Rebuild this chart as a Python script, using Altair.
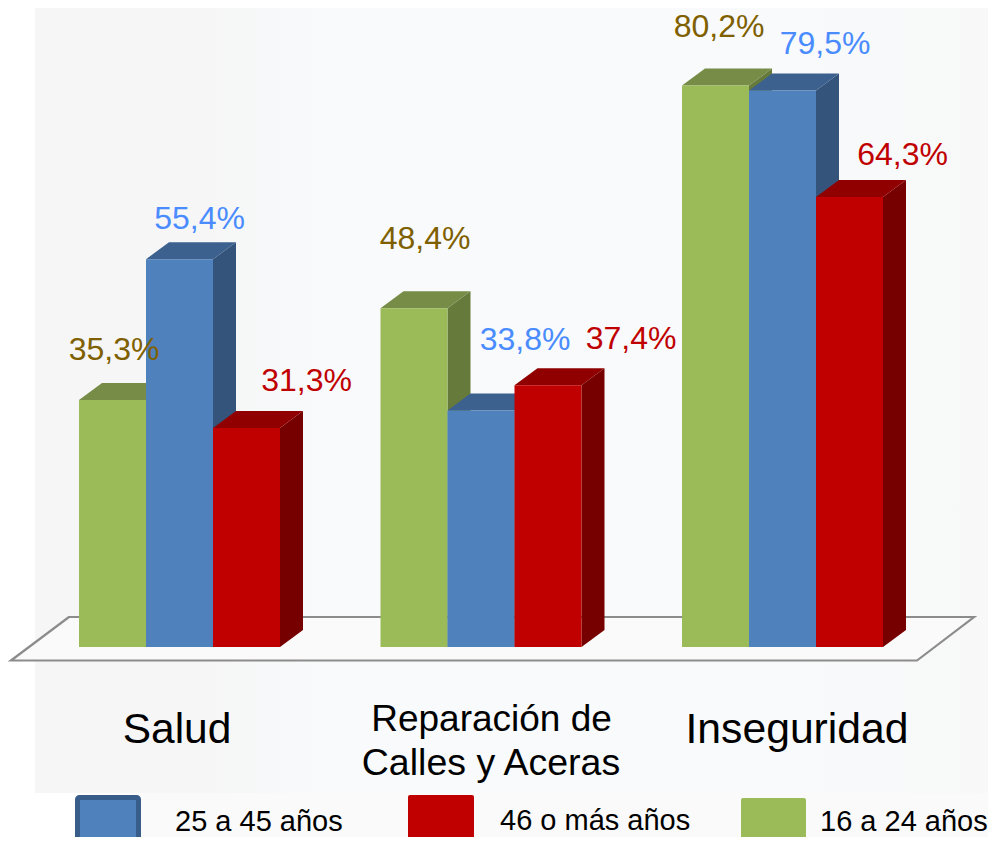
import altair as alt
import pandas as pd

# ---- chart values ----
categories = ["Salud", "Reparación de Calles y Aceras", "Inseguridad"]
series = ["16 a 24 años", "25 a 45 años", "46 o más años"]
values_young = [35.3, 48.4, 80.2]
values_middle = [55.4, 33.8, 79.5]
values_old = [31.3, 37.4, 64.3]
legend_order = ["25 a 45 años", "46 o más años", "16 a 24 años"]

# ---- layout (page pixels of the reference mapped onto the scales) ----
W, H = 980, 829
GROUP_STEP = 301.5
GROUP_0 = 179.5
BASE_PX = 647
PX_PER_UNIT = 7.0
BAR = 67 / GROUP_STEP
DEPTH_X = 23 / GROUP_STEP
DEPTH_Y = 17 / PX_PER_UNIT
FONT = "Liberation Sans"

def ux(px):
    return (px - GROUP_0) / GROUP_STEP

def uy(px):
    return (BASE_PX - px) / PX_PER_UNIT

SX = alt.Scale(domain=[ux(8), ux(8 + W)], nice=False, zero=False)
SY = alt.Scale(domain=[uy(8 + H), uy(8)], nice=False, zero=False)
X = alt.X("x:Q", scale=SX, axis=None)
Y = alt.Y("y:Q", scale=SY, axis=None)
X_NOSTACK = alt.X("x:Q", scale=SX, axis=None, stack=None)
Y_NOSTACK = alt.Y("y:Q", scale=SY, axis=None, stack=None)

palette = {
    "16 a 24 años": dict(front="#9bbb59", top="#778c47", side="#667a3b", text="#7f6000"),
    "25 a 45 años": dict(front="#4f81bd", top="#3c618e", side="#34547c", text="#4a8cff"),
    "46 o más años": dict(front="#c00000", top="#900000", side="#760000", text="#c00000"),
}
series_values = dict(zip(series, [values_young, values_middle, values_old]))

layers = []

# pale backdrop and floor
backdrop = pd.DataFrame({"x": [ux(35)], "x2": [ux(988)], "y": [uy(8)], "y2": [uy(793)]})
layers.append(
    alt.Chart(backdrop)
    .mark_rect(color=alt.Gradient(
        gradient="linear", x1=0, x2=1, y1=0, y2=0,
        stops=[
            alt.GradientStop(offset=0, color="#f6f6f6"),
            alt.GradientStop(offset=0.18, color="#f6f6f6"),
            alt.GradientStop(offset=0.3, color="#f8fafb"),
            alt.GradientStop(offset=0.8, color="#f8fafb"),
            alt.GradientStop(offset=1, color="#f8f8f8"),
        ],
    ))
    .encode(x=X, x2="x2:Q", y=Y, y2="y2:Q")
)
strip = pd.DataFrame({"x": [ux(130)], "x2": [ux(988)], "y": [uy(793)], "y2": [uy(837)]})
layers.append(alt.Chart(strip).mark_rect(color="#fafafa").encode(x=X, x2="x2:Q", y=Y, y2="y2:Q"))

floor = pd.DataFrame({
    "y": [uy(660.5), uy(617)],
    "x": [ux(11), ux(69)],
    "x2": [ux(917), ux(974)],
})
layers.append(
    alt.Chart(floor)
    .mark_area(orient="horizontal", fill="#fafafa", stroke="#8c8c8c", strokeWidth=2.2)
    .encode(x=X_NOSTACK, x2="x2:Q", y=Y)
)

# bars: back to front, each with side, top and front face
for j, name in enumerate(series):
    vals = series_values[name]
    colours = palette[name]
    side_rows, top_rows, front_rows = [], [], []
    for i, (cat, v) in enumerate(zip(categories, vals)):
        left = i + (j - 1.5) * BAR
        right = left + BAR
        side_rows += [
            {"cat": cat, "x": right, "y": v, "y2": 0},
            {"cat": cat, "x": right + DEPTH_X, "y": v + DEPTH_Y, "y2": DEPTH_Y},
        ]
        top_rows += [
            {"cat": cat, "y": v, "x": left, "x2": right},
            {"cat": cat, "y": v + DEPTH_Y, "x": left + DEPTH_X, "x2": right + DEPTH_X},
        ]
        front_rows.append({"cat": cat, "x": left, "x2": right, "y": v, "y2": 0})
    layers.append(
        alt.Chart(pd.DataFrame(side_rows)).mark_area(color=colours["side"])
        .encode(x=X, y=Y_NOSTACK, y2="y2:Q", detail="cat:N")
    )
    layers.append(
        alt.Chart(pd.DataFrame(top_rows)).mark_area(orient="horizontal", color=colours["top"])
        .encode(x=X_NOSTACK, x2="x2:Q", y=Y, detail="cat:N")
    )
    layers.append(
        alt.Chart(pd.DataFrame(front_rows)).mark_rect(color=colours["front"])
        .encode(x=X, x2="x2:Q", y=Y, y2="y2:Q")
    )

# value labels: nudged from each bar's top centre (in reference pixels)
nudges = {
    "16 a 24 años": [(1.5, -49.5), (11, -69), (3.5, -59)],
    "25 a 45 años": [(20, -40), (44, -70.5), (42.5, -47)],
    "46 o más años": [(60, -46.5), (83, -46.5), (53, -42)],
}
label_rows = []
for j, name in enumerate(series):
    for i, v in enumerate(series_values[name]):
        dx, dy = nudges[name][i]
        label_rows.append({
            "x": i + (j - 1) * BAR + dx / GROUP_STEP,
            "y": v - dy / PX_PER_UNIT,
            "label": f"{v:.1f}%".replace(".", ","),
            "series": name,
        })
layers.append(
    alt.Chart(pd.DataFrame(label_rows))
    .mark_text(font=FONT, fontSize=32, align="center", baseline="middle")
    .encode(
        x=X, y=Y, text="label:N",
        color=alt.Color("series:N", legend=None, scale=alt.Scale(
            domain=series, range=[palette[s]["text"] for s in series])),
    )
)

# category labels
cat_rows = [
    {"x": ux(177), "y": uy(730), "label": "Salud", "fs": 42.5},
    {"x": ux(491.5), "y": uy(720), "label": "Reparación de", "fs": 37},
    {"x": ux(491), "y": uy(764), "label": "Calles y Aceras", "fs": 37.5},
    {"x": ux(797), "y": uy(730), "label": "Inseguridad", "fs": 42.7},
]
layers.append(
    alt.Chart(pd.DataFrame(cat_rows))
    .mark_text(font=FONT, align="center", baseline="middle", color="#000000")
    .encode(x=X, y=Y, text="label:N", size=alt.Size("fs:Q", scale=None, legend=None))
)

# manual legend to keep the reference's uneven spacing
legend_swatch = [
    {"x": ux(77.5), "x2": ux(138.5), "y": uy(797.5), "y2": uy(845), "series": legend_order[0], "stroke": 5},
    {"x": ux(408), "x2": ux(474), "y": uy(795), "y2": uy(845), "series": legend_order[1], "stroke": 0},
    {"x": ux(741), "x2": ux(806), "y": uy(798), "y2": uy(845), "series": legend_order[2], "stroke": 0},
]
layers.append(
    alt.Chart(pd.DataFrame(legend_swatch))
    .mark_rect(cornerRadius=2)
    .encode(
        x=X, x2="x2:Q", y=Y, y2="y2:Q",
        fill=alt.Fill("series:N", legend=None, scale=alt.Scale(
            domain=series, range=[palette[s]["front"] for s in series])),
        stroke=alt.Stroke("series:N", legend=None, scale=alt.Scale(
            domain=series, range=["#9bbb59", "#385d8a", "#c00000"])),
        strokeWidth=alt.StrokeWidth("stroke:Q", scale=None, legend=None),
    )
)
legend_text = [
    {"x": ux(175), "y": uy(822), "label": legend_order[0]},
    {"x": ux(500), "y": uy(821), "label": legend_order[1]},
    {"x": ux(820), "y": uy(822), "label": legend_order[2]},
]
layers.append(
    alt.Chart(pd.DataFrame(legend_text))
    .mark_text(font=FONT, fontSize=29, align="left", baseline="middle", color="#000000")
    .encode(x=X, y=Y, text="label:N")
)

chart = (
    alt.layer(*layers)
    .resolve_scale(color="independent", stroke="independent", fill="independent")
    .properties(width=W, height=H, padding=0, autosize=alt.AutoSizeParams(type="none"))
    .configure_view(stroke=None)
)

chart.save("out.html", embed_options={"renderer": "svg", "actions": False})
